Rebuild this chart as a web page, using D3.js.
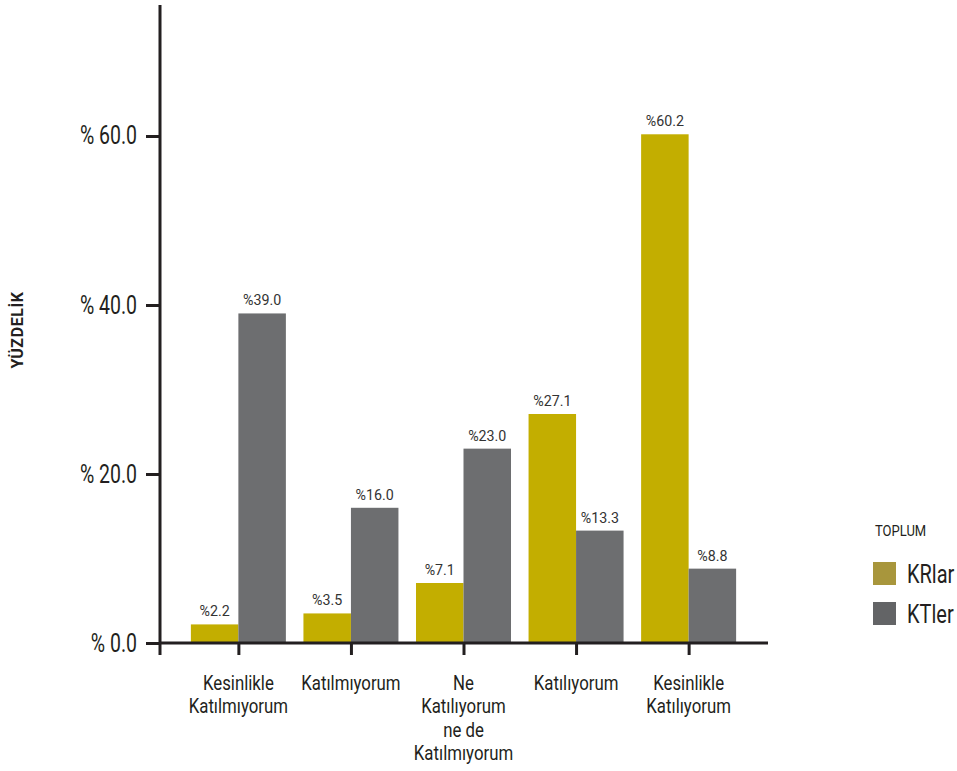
<!DOCTYPE html>
<html>
<head>
<meta charset="utf-8">
<script src="https://cdn.jsdelivr.net/npm/d3@7"></script>
<style>
  html, body { margin: 0; padding: 0; background: #fff; }
  svg { display: block; font-family: Roboto, "Noto Sans", sans-serif; }
</style>
</head>
<body>
<svg id="chart" width="957" height="771"></svg>
<script>
// Response categories (multi-line labels)
const categories = [
  ["Kesinlikle", "Katılmıyorum"],
  ["Katılmıyorum"],
  ["Ne", "Katılıyorum", "ne de", "Katılmıyorum"],
  ["Katılıyorum"],
  ["Kesinlikle", "Katılıyorum"]
];
const seriesNames = ["KRlar", "KTler"];
const krValues = [2.2, 3.5, 7.1, 27.1, 60.2];
const ktValues = [39.0, 16.0, 23.0, 13.3, 8.8];
const yTicks = [0, 20, 40, 60];
const yTitle = "YÜZDELİK";
const legendTitle = "TOPLUM";

const barColors = ["#C3AE00", "#6D6E70"];
const swatchColors = ["#A8963C", "#636466"];
const ink = "#231F20";

const svg = d3.select("#chart");

// Places a horizontally condensed text at (x, y)
function narrowText(parent, x, y, sx) {
  return parent.append("g")
    .attr("transform", `translate(${x},${y})`)
    .append("text")
    .attr("transform", `scale(${sx},1)`);
}

const y = d3.scaleLinear().domain([0, 75.5]).range([643, 5]);
const x = d3.scaleBand()
  .domain(d3.range(categories.length))
  .range([183, 744])
  .paddingInner(0.156)
  .paddingOuter(0.07);
const xs = d3.scaleBand()
  .domain(d3.range(seriesNames.length))
  .range([0, x.bandwidth()]);

const axisX0 = 160, axisX1 = 768;

// Bars
const series = [krValues, ktValues];
const cells = [];
categories.forEach((c, i) => series.forEach((s, k) => cells.push({ i, k, v: s[i] })));

svg.append("g").selectAll("rect")
  .data(cells)
  .join("rect")
  .attr("x", d => x(d.i) + xs(d.k))
  .attr("width", xs.bandwidth())
  .attr("y", d => y(d.v))
  .attr("height", d => y(0) - y(d.v))
  .attr("fill", d => barColors[d.k]);

// Value labels above bars
const valG = svg.append("g");
cells.forEach(d => {
  narrowText(valG, x(d.i) + xs(d.k) + xs.bandwidth() / 2, y(d.v) - 8, 0.92)
    .attr("text-anchor", "middle")
    .attr("font-size", 15.5)
    .attr("fill", "#333")
    .text("%" + d.v.toFixed(1));
});

// Y axis ticks and labels
const ySx = 0.78, yTick = 14, yPad = 9;
const yAxis = d3.axisLeft(y)
  .tickValues(yTicks)
  .tickSize(yTick)
  .tickPadding(yPad)
  .tickSizeOuter(0)
  .tickFormat(d => "% " + d.toFixed(1));
const gy = svg.append("g").attr("transform", `translate(${axisX0},0)`).call(yAxis);
gy.select(".domain").remove();
gy.selectAll(".tick line").attr("stroke", ink).attr("stroke-width", 3);
gy.selectAll(".tick text")
  .attr("font-size", 25)
  .attr("font-family", "Roboto, sans-serif")
  .attr("fill", ink)
  .attr("x", -(yTick + yPad) / ySx)
  .attr("transform", `scale(${ySx},1)`);

// X axis ticks at group centres
const xAxis = d3.axisBottom(d3.scalePoint()
    .domain(d3.range(categories.length))
    .range([x(0) + x.bandwidth() / 2, x(categories.length - 1) + x.bandwidth() / 2]))
  .tickSize(12)
  .tickSizeOuter(0)
  .tickFormat("");
const gx = svg.append("g").attr("transform", `translate(0,${y(0)})`).call(xAxis);
gx.select(".domain").remove();
gx.selectAll(".tick line").attr("stroke", ink).attr("stroke-width", 3);

// Axis lines
svg.append("line")
  .attr("x1", axisX0).attr("x2", axisX0)
  .attr("y1", y.range()[1]).attr("y2", y(0) + 12)
  .attr("stroke", ink).attr("stroke-width", 3);
svg.append("line")
  .attr("x1", axisX0).attr("x2", axisX1)
  .attr("y1", y(0)).attr("y2", y(0))
  .attr("stroke", ink).attr("stroke-width", 3);

// Category labels
const catG = svg.append("g");
categories.forEach((lines, i) => {
  const t = narrowText(catG, x(i) + x.bandwidth() / 2, 690, 0.8)
    .attr("text-anchor", "middle")
    .attr("font-size", 21)
    .attr("fill", ink);
  t.selectAll("tspan")
    .data(lines)
    .join("tspan")
    .attr("x", 0)
    .attr("dy", (d, j) => j === 0 ? 0 : 23.5)
    .text(d => d);
});

// Y axis title
svg.append("text")
  .attr("transform", "translate(23,330) rotate(-90)")
  .attr("text-anchor", "middle")
  .attr("font-size", 16)
  .attr("font-weight", "bold")
  .attr("letter-spacing", 0.6)
  .attr("fill", ink)
  .text(yTitle);

// Legend
const lg = svg.append("g");
narrowText(lg, 875, 536, 0.84)
  .attr("font-size", 15.5)
  .attr("fill", ink)
  .text(legendTitle);
seriesNames.forEach((name, i) => {
  lg.append("rect")
    .attr("x", 873).attr("y", 562 + i * 40)
    .attr("width", 23).attr("height", 23)
    .attr("fill", swatchColors[i]);
  narrowText(lg, 907, 583 + i * 40, 0.8)
    .attr("font-size", 25)
    .attr("fill", ink)
    .text(name);
});
</script>
</body>
</html>
